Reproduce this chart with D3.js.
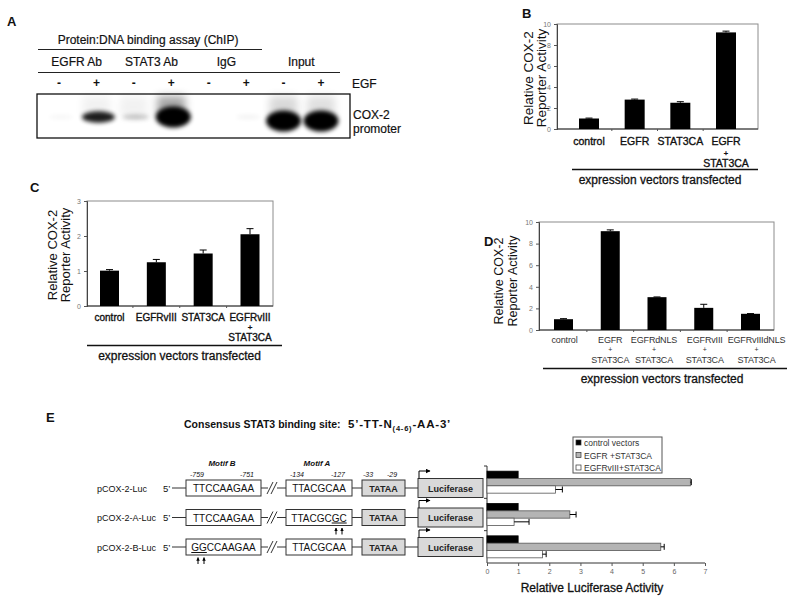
<!DOCTYPE html>
<html><head><meta charset="utf-8">
<script src="https://cdn.jsdelivr.net/npm/d3@7"></script>
<style>body{margin:0;background:#fff} svg{display:block} text{font-family:"Liberation Sans",Arial,Helvetica,sans-serif}</style>
</head><body><svg id="c" width="800" height="603"></svg>
<script>
// ---------------- DATA ----------------
const laneGroups = ["EGFR Ab", "STAT3 Ab", "IgG", "Input"];
const laneSigns = ["-", "+", "-", "+", "-", "+", "-", "+"];
const bandIntensity = [0.03, 0.8, 0.2, 1.0, 0.0, 0.04, 1.0, 1.0];
const bandSmear = [0, 0.05, 0.05, 0.35, 0, 0, 0.15, 0.12];

const catB = ["control", "EGFR", "STAT3CA", "EGFR+STAT3CA"];
const valB = [1.0, 2.8, 2.5, 9.2];
const errB = [0.04, 0.05, 0.1, 0.12];
const ticksB = [0, 2, 4, 6, 8, 10];

const catC = ["control", "EGFRvIII", "STAT3CA", "EGFRvIII+STAT3CA"];
const valC = [1.01, 1.25, 1.5, 2.05];
const errC = [0.03, 0.08, 0.1, 0.16];
const ticksC = [0, 1, 2, 3];

const catD = ["control", "EGFR+STAT3CA", "EGFRdNLS+STAT3CA", "EGFRvIII+STAT3CA", "EGFRvIIIdNLS+STAT3CA"];
const valD = [1.0, 9.15, 3.04, 2.05, 1.5];
const errD = [0.05, 0.12, 0.02, 0.33, 0.02];
const ticksD = [0, 2, 4, 6, 8, 10];

const constructs = ["pCOX-2-Luc", "pCOX-2-A-Luc", "pCOX-2-B-Luc"];
const motifBSeq = [["", "TTCCAAGAA"], ["", "TTCCAAGAA"], ["GG", "CCAAGAA"]];
const motifASeq = [["TTACGCAA", ""], ["TTACGC", "GC"], ["TTACGCAA", ""]];
const positionLabels = ["-759", "-751", "-134", "-127", "-33", "-29"];

const seriesE = ["control vectors", "EGFR +STAT3CA", "EGFRvIII+STAT3CA"];
const valECtrl = [1.0, 1.0, 1.0];
const valEEgfr = [6.53, 2.66, 5.58];
const errEEgfr = [0.03, 0.2, 0.11];
const valEvIII = [2.2, 0.87, 1.78];
const errEvIII = [0.22, 0.48, 0.12];
const ticksE = [0, 1, 2, 3, 4, 5, 6, 7];

// ---------------- HELPERS ----------------
const svg = d3.select("#c");
const FONT = '"Liberation Sans", Arial, Helvetica, sans-serif';
function T(g, x, y, s, o = {}) {
  const t = g.append("text").attr("x", x).attr("y", y)
    .attr("text-anchor", o.a || "start")
    .attr("font-size", o.s || 12)
    .attr("font-weight", o.w || "normal")
    .attr("font-style", o.i ? "italic" : "normal")
    .attr("fill", o.c || "#111")
    .text(s);
  if (o.r) t.attr("transform", `rotate(${o.r},${x},${y})`);
  if (o.sw) t.attr("stroke", o.c || "#111").attr("stroke-width", o.sw);
  if (o.ls) t.attr("letter-spacing", o.ls);
  return t;
}
function L(g, x1, y1, x2, y2, c = "#000", w = 1) {
  return g.append("line").attr("x1", x1).attr("y1", y1).attr("x2", x2).attr("y2", y2)
    .attr("stroke", c).attr("stroke-width", w);
}
const defs = svg.append("defs");
defs.append("filter").attr("id", "blur").attr("x", "-50%").attr("y", "-80%").attr("width", "200%").attr("height", "260%")
  .append("feGaussianBlur").attr("stdDeviation", 2.2);
defs.append("filter").attr("id", "blur2").attr("x", "-50%").attr("y", "-80%").attr("width", "200%").attr("height", "260%")
  .append("feGaussianBlur").attr("stdDeviation", 4);
defs.append("marker").attr("id", "ah").attr("viewBox", "0 0 10 10").attr("refX", 9).attr("refY", 5)
  .attr("markerWidth", 5).attr("markerHeight", 5).attr("orient", "auto-start-reverse")
  .append("path").attr("d", "M0,0L10,5L0,10z").attr("fill", "#000");
defs.append("marker").attr("id", "ah2").attr("viewBox", "0 0 10 10").attr("refX", 9).attr("refY", 5)
  .attr("markerWidth", 3.5).attr("markerHeight", 3.5).attr("orient", "auto")
  .append("path").attr("d", "M0,0L10,5L0,10z").attr("fill", "#000");

// ---------------- PANEL A ----------------
(function () {
  const g = svg.append("g");
  T(g, 7, 26, "A", { s: 13, w: "bold" });
  const lane = d3.scalePoint().domain(d3.range(8)).range([59, 321]);
  T(g, 148, 44, "Protein:DNA binding assay (ChIP)", { a: "middle", s: 12, sw: 0.2 });
  L(g, 38, 49.5, 262, 49.5, "#222", 1);
  laneGroups.forEach((name, gi) => {
    const x1 = lane(gi * 2) - 21, x2 = lane(gi * 2 + 1) + 19;
    T(g, (x1 + x2) / 2, 66, name, { a: "middle", s: 12, sw: 0.2 });
    L(g, x1, 72.5, x2, 72.5, "#222", 1);
  });
  laneSigns.forEach((s, i) => T(g, lane(i), 87, s, { a: "middle", s: 12, w: "bold" }));
  T(g, 352, 88, "EGF", { s: 12, sw: 0.2 });
  g.append("rect").attr("x", 37).attr("y", 94).attr("width", 313).attr("height", 44)
    .attr("fill", "#fff").attr("stroke", "#111").attr("stroke-width", 1.3);
  const gel = g.append("g");
  gel.selectAll("rect.smear").data(bandSmear).join("rect")
    .attr("x", (d, i) => lane(i) - 14).attr("y", 96).attr("width", 28).attr("height", 22)
    .attr("fill", "#000").attr("opacity", d => d).attr("filter", "url(#blur2)");
  gel.selectAll("ellipse.band").data(bandIntensity).join("ellipse")
    .attr("cx", (d, i) => lane(i) + (i >= 6 ? 0 : 2)).attr("cy", (d, i) => i >= 6 ? 121 : 117)
    .attr("rx", d => 12 + 5.5 * d).attr("ry", d => 2.5 + 8 * Math.pow(d, 4))
    .attr("fill", "#000").attr("opacity", d => Math.min(1, d * 1.1)).attr("filter", "url(#blur)");
  T(g, 353, 119, "COX-2", { s: 12, sw: 0.2 });
  T(g, 353, 133, "promoter", { s: 12, sw: 0.2 });
})();

// ---------------- GENERIC BAR PANEL ----------------
function barPanel(p) {
  const g = svg.append("g");
  const y = d3.scaleLinear().domain([0, p.max]).range([p.b, p.t]);
  const x = d3.scalePoint().domain(p.cats).range(p.cr);
  g.append("rect").attr("x", p.l).attr("y", p.t).attr("width", p.r - p.l).attr("height", p.b - p.t)
    .attr("fill", "none").attr("stroke", "#8c8c8c").attr("stroke-width", 1);
  const ax = g.append("g").attr("transform", `translate(${p.l},0)`)
    .call(d3.axisLeft(y).tickValues(p.ticks).tickSize(3).tickPadding(3).tickFormat(d3.format("d")));
  ax.select(".domain").attr("stroke", "#444");
  ax.selectAll(".tick line").attr("stroke", "#555");
  ax.selectAll(".tick text").attr("font-size", 7).attr("fill", "#777").attr("font-family", FONT);
  L(g, p.l, p.b, p.r, p.b, "#333", 1);
  const step = x.step();
  p.cats.slice(1).forEach(c => L(g, x(c) - step / 2, p.b, x(c) - step / 2, p.b + 2, "#555", 1));
  g.selectAll("rect.bar").data(p.vals).join("rect").attr("class", "bar")
    .attr("x", (d, i) => x(p.cats[i]) - p.bw / 2).attr("y", d => y(d))
    .attr("width", p.bw).attr("height", d => y(0) - y(d)).attr("fill", "#000");
  p.vals.forEach((v, i) => {
    const cx = x(p.cats[i]);
    L(g, cx, y(v), cx, y(v + p.errs[i]), "#000", 1);
    L(g, cx - 3.5, y(v + p.errs[i]), cx + 3.5, y(v + p.errs[i]), "#000", 1);
  });
  p.cats.forEach((c, ci) => {
    const parts = c.split("+");
    const lines = parts.length > 1 ? [parts[0], "+", parts[1]] : [parts[0]];
    const dx = (p.ldx && p.ldx[ci]) || 0;
    lines.forEach((s, k) => T(g, x(c) + dx, p.lab[k], s,
      { a: "middle", s: k === 1 ? p.ps : p.fs, c: p.lc, sw: p.lsw, ls: p.lls }));
  });
  L(g, p.line[0], p.line[2], p.line[1], p.line[2], "#111", 1.3);
  T(g, (p.line[0] + p.line[1]) / 2 + p.ex, p.line[2] + 14, "expression vectors transfected", { a: "middle", s: 12, sw: 0.3 });
  T(g, p.yl[0], p.yl[2], "Relative COX-2", { a: "middle", s: p.ys, r: -90 });
  T(g, p.yl[1], p.yl[2], "Reporter Activity", { a: "middle", s: p.ys, r: -90 });
  T(g, p.pl[0], p.pl[1], p.pl[2], { s: 13, w: "bold" });
}

barPanel({ cats: catB, vals: valB, errs: errB, ticks: ticksB, max: 10,
  l: 557, r: 758, t: 24, b: 129, cr: [589, 726], bw: 20,
  lab: [144.5, 155.5, 167], fs: 10.5, ps: 7.5, lc: "#111", lsw: 0.35,
  line: [572, 758, 169.5], ex: -5, yl: [533, 546, 78], ys: 13.5, pl: [522, 18, "B"] });

barPanel({ cats: catC, vals: valC, errs: errC, ticks: ticksC, max: 3,
  l: 87, r: 273, t: 201, b: 306, cr: [109.5, 250], bw: 19,
  lab: [321, 330, 341], fs: 10, ps: 8, lc: "#111", lsw: 0.35,
  line: [87, 282, 345.5], ex: -5, yl: [57, 70, 255], ys: 13, pl: [30, 192, "C"] });

barPanel({ cats: catD, vals: valD, errs: errD, ticks: ticksD, max: 10,
  l: 539, r: 774, t: 222, b: 330, cr: [563.5, 750.5], bw: 19,
  lab: [343, 352, 363], fs: 9, ps: 7, lc: "#333", lsw: 0, lls: -0.15,
  ldx: [1, 0, -3, 1, 6],
  line: [543, 787, 368.5], ex: -3, yl: [503, 517, 281], ys: 12.5, pl: [484, 246, "D"] });

// ---------------- PANEL E ----------------
(function () {
  const g = svg.append("g");
  T(g, 46, 422, "E", { s: 13, w: "bold" });
  T(g, 184, 428, "Consensus STAT3 binding site:", { s: 10.5, w: "bold" });
  const f = T(g, 348, 428, "5’-TT-N", { s: 11.5, w: "bold", ls: 0.8 });
  f.append("tspan").attr("font-size", 7.5).attr("dy", 3).text("(4-6)");
  f.append("tspan").attr("dy", -3).text("-AA-3’");

  const row = d3.scalePoint().domain(constructs).range([488, 547]);
  T(g, 222, 466, "Motif B", { a: "middle", s: 8, w: "bold", i: true });
  T(g, 317, 466, "Motif A", { a: "middle", s: 8, w: "bold", i: true });
  const posX = [197, 247, 297, 338, 368, 392];
  positionLabels.forEach((s, i) => T(g, posX[i], 477, s, { a: "middle", s: 7, i: true }));

  constructs.forEach((c, i) => {
    const y = row(c);
    T(g, 97, y + 3.5, c, { s: 9 });
    T(g, 163, y + 3.5, "5’", { s: 9.5 });
    L(g, 172, y, 418, y, "#333", 1);
    g.append("rect").attr("x", 268).attr("y", y - 2).attr("width", 9).attr("height", 4).attr("fill", "#fff");
    L(g, 267, y + 6, 273, y - 6, "#333", 1);
    L(g, 271, y + 6, 277, y - 6, "#333", 1);
    g.append("rect").attr("x", 186).attr("y", y - 8).attr("width", 75).attr("height", 16)
      .attr("fill", "#fff").attr("stroke", "#333");
    const tb = T(g, 223.5, y + 4, "", { a: "middle", s: 10 });
    tb.append("tspan").attr("text-decoration", "underline").text(motifBSeq[i][0]);
    tb.append("tspan").text(motifBSeq[i][1]);
    g.append("rect").attr("x", 286).attr("y", y - 8).attr("width", 66).attr("height", 16)
      .attr("fill", "#fff").attr("stroke", "#333");
    const ta = T(g, 319, y + 4, "", { a: "middle", s: 10 });
    ta.append("tspan").text(motifASeq[i][0]);
    ta.append("tspan").attr("text-decoration", "underline").text(motifASeq[i][1]);
    g.append("rect").attr("x", 362).attr("y", y - 8).attr("width", 43).attr("height", 16)
      .attr("fill", "#d9d9d9").attr("stroke", "#333");
    T(g, 383.5, y + 3.5, "TATAA", { a: "middle", s: 9, w: "bold", c: "#222" });
    g.append("rect").attr("x", 418).attr("y", y - 9.5).attr("width", 65).attr("height", 19)
      .attr("fill", "#d9d9d9").attr("stroke", "#333");
    T(g, 450.5, y + 3.5, "Luciferase", { a: "middle", s: 9, w: "bold", c: "#222" });
    g.append("path").attr("d", `M419,${y - 9.5}V${y - 17}H430`).attr("fill", "none")
      .attr("stroke", "#000").attr("stroke-width", 1).attr("marker-end", "url(#ah)");
    const mx = motifBSeq[i][0] ? [198, 204] : (motifASeq[i][1] ? [336, 342] : []);
    mx.forEach(xx => L(g, xx, y + 17, xx, y + 10.5, "#000", 1).attr("marker-end", "url(#ah2)"));
  });

  const x = d3.scaleLinear().domain([0, 7]).range([487, 705]);
  const yb = d3.scaleBand().domain(constructs).range([466, 563]).paddingInner(0.32).paddingOuter(0.16);
  const ys = d3.scaleBand().domain(seriesE).range([0, yb.bandwidth()]);
  const fills = ["#000", "#b4b4b4", "#fff"];
  const series = [[valECtrl, null], [valEEgfr, errEEgfr], [valEvIII, errEvIII]];
  L(g, 487, 466, 487, 563, "#333", 1);
  L(g, 487, 563, 705, 563, "#333", 1);
  constructs.forEach((c, i) => {
    const yy = 466 + i * (563 - 466) / 3;
    L(g, 484, yy, 487, yy, "#333", 1);
  });
  const ax = g.append("g").attr("transform", "translate(0,563)")
    .call(d3.axisBottom(x).tickValues(ticksE).tickSize(3).tickPadding(3).tickFormat(d3.format("d")));
  ax.select(".domain").remove();
  ax.selectAll(".tick line").attr("stroke", "#555");
  ax.selectAll(".tick text").attr("font-size", 7).attr("fill", "#666").attr("font-family", FONT);
  series.forEach(([vals, errs], si) => {
    g.selectAll(null).data(vals).join("rect")
      .attr("x", x(0)).attr("y", (d, i) => yb(constructs[i]) + ys(seriesE[si]))
      .attr("width", d => x(d) - x(0)).attr("height", ys.bandwidth())
      .attr("fill", fills[si]).attr("stroke", si === 0 ? "#000" : "#555").attr("stroke-width", 0.8);
    if (errs) vals.forEach((v, i) => {
      const cy = yb(constructs[i]) + ys(seriesE[si]) + ys.bandwidth() / 2;
      L(g, x(v), cy, x(v + errs[i]), cy, "#000", 1);
      L(g, x(v + errs[i]), cy - 3, x(v + errs[i]), cy + 3, "#000", 1);
    });
  });
  T(g, 592, 592, "Relative Luciferase Activity", { a: "middle", s: 12, sw: 0.3 });
  g.append("rect").attr("x", 573).attr("y", 437).attr("width", 89).attr("height", 36)
    .attr("fill", "#fff").attr("stroke", "#555");
  seriesE.forEach((s, i) => {
    const ly = 443 + i * 12.5;
    g.append("rect").attr("x", 576).attr("y", ly - 3).attr("width", 5).attr("height", 5)
      .attr("fill", fills[i]).attr("stroke", "#333").attr("stroke-width", 0.7);
    T(g, 584, ly + 3, s, { s: 8.5, c: "#333" });
  });
})();
</script></body></html>
